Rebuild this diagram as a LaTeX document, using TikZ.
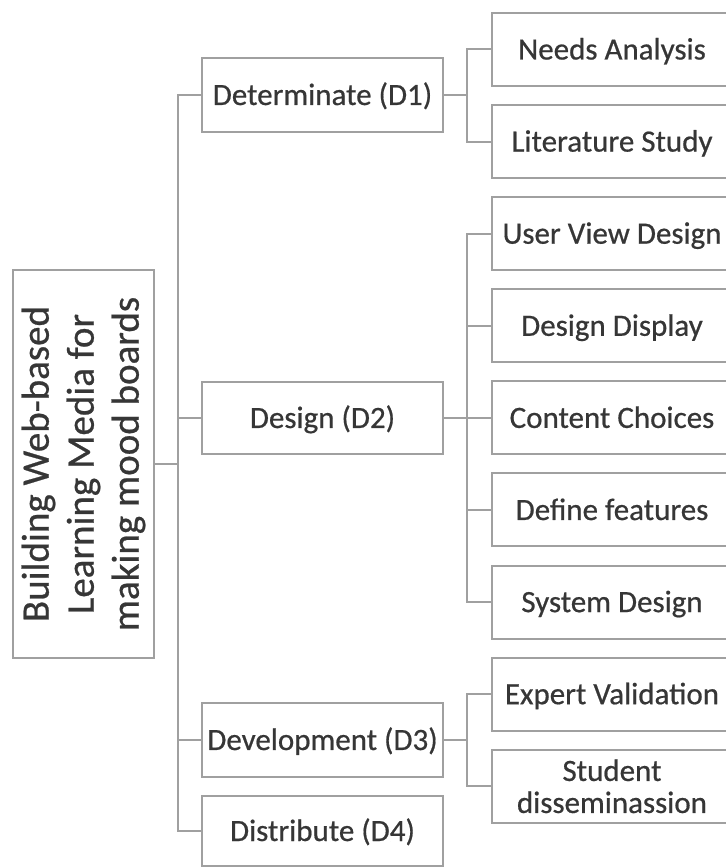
\documentclass[tikz,border=0pt]{standalone}
\usepackage{fontspec}
\setmainfont{Carlito}[AutoFakeBold=0.6]
\definecolor{txt}{HTML}{363636}
\definecolor{ln}{HTML}{A0A0A0}
\begin{document}
\begin{tikzpicture}[x=1pt,y=1pt,
  basebox/.style={draw=ln, line width=2pt, text=txt, inner sep=0pt,
    minimum width=241pt, minimum height=73pt, font=\fontsize{31}{32}\selectfont\bfseries},
  box/.style={basebox, text height=20pt, text depth=0pt},
  leaf/.style={box, minimum width=240pt},
  leaftwo/.style={basebox, minimum width=240pt, align=center},
  rootbox/.style={draw=ln, line width=2pt, text=txt, inner sep=0pt,
    minimum width=388pt, minimum height=141pt, align=center,
    font=\fontsize{39}{45}\selectfont\bfseries},
  conn/.style={draw=ln, line width=2pt}]
\useasboundingbox (0,0) rectangle (726,868);
\fill[white] (0,0) rectangle (726,868);

\node[rootbox, rotate=90] (root) at (83.5,404) {Building Web-based\\Learning Media for\\making mood boards};

\node[box, minimum height=74pt] (D1) at (322.5,773) {Determinate (D1)};
\node[box, minimum height=72pt] (D2) at (322.5,450) {Design (D2)};
\node[box, minimum height=74pt] (D3) at (322.5,128) {Development (D3)};
\node[box, minimum height=70pt] (D4) at (322.5,37) {Distribute (D4)};

\node[leaf] (N1) at (612,818.5) {Needs Analysis};
\node[leaf] (N2) at (612,726.4) {Literature Study};
\node[leaf] (U1) at (612,634.3) {User View Design};
\node[leaf] (U2) at (612,542.2) {Design Display};
\node[leaf] (U3) at (612,450.1) {Content Choices};
\node[leaf] (U4) at (612,358) {Define features};
\node[leaf] (U5) at (612,265.9) {System Design};
\node[leaf] (E1) at (612,173.8) {Expert Validation};
\node[leaftwo] (E2) at (612,81.7) {Student\\disseminassion};

\coordinate (trunk) at (177.5,0);
\coordinate (br) at (467,0);

\foreach \n in {D1,D2,D3,D4}
  \draw[conn] (root.south) -- (root.south -| trunk) |- (\n.west);
\foreach \n in {N1,N2}
  \draw[conn] (D1.east) -- (D1.east -| br) |- (\n.west);
\foreach \n in {U1,U2,U3,U4,U5}
  \draw[conn] (D2.east) -- (D2.east -| br) |- (\n.west);
\foreach \n in {E1,E2}
  \draw[conn] (D3.east) -- (D3.east -| br) |- (\n.west);
\end{tikzpicture}
\end{document}
